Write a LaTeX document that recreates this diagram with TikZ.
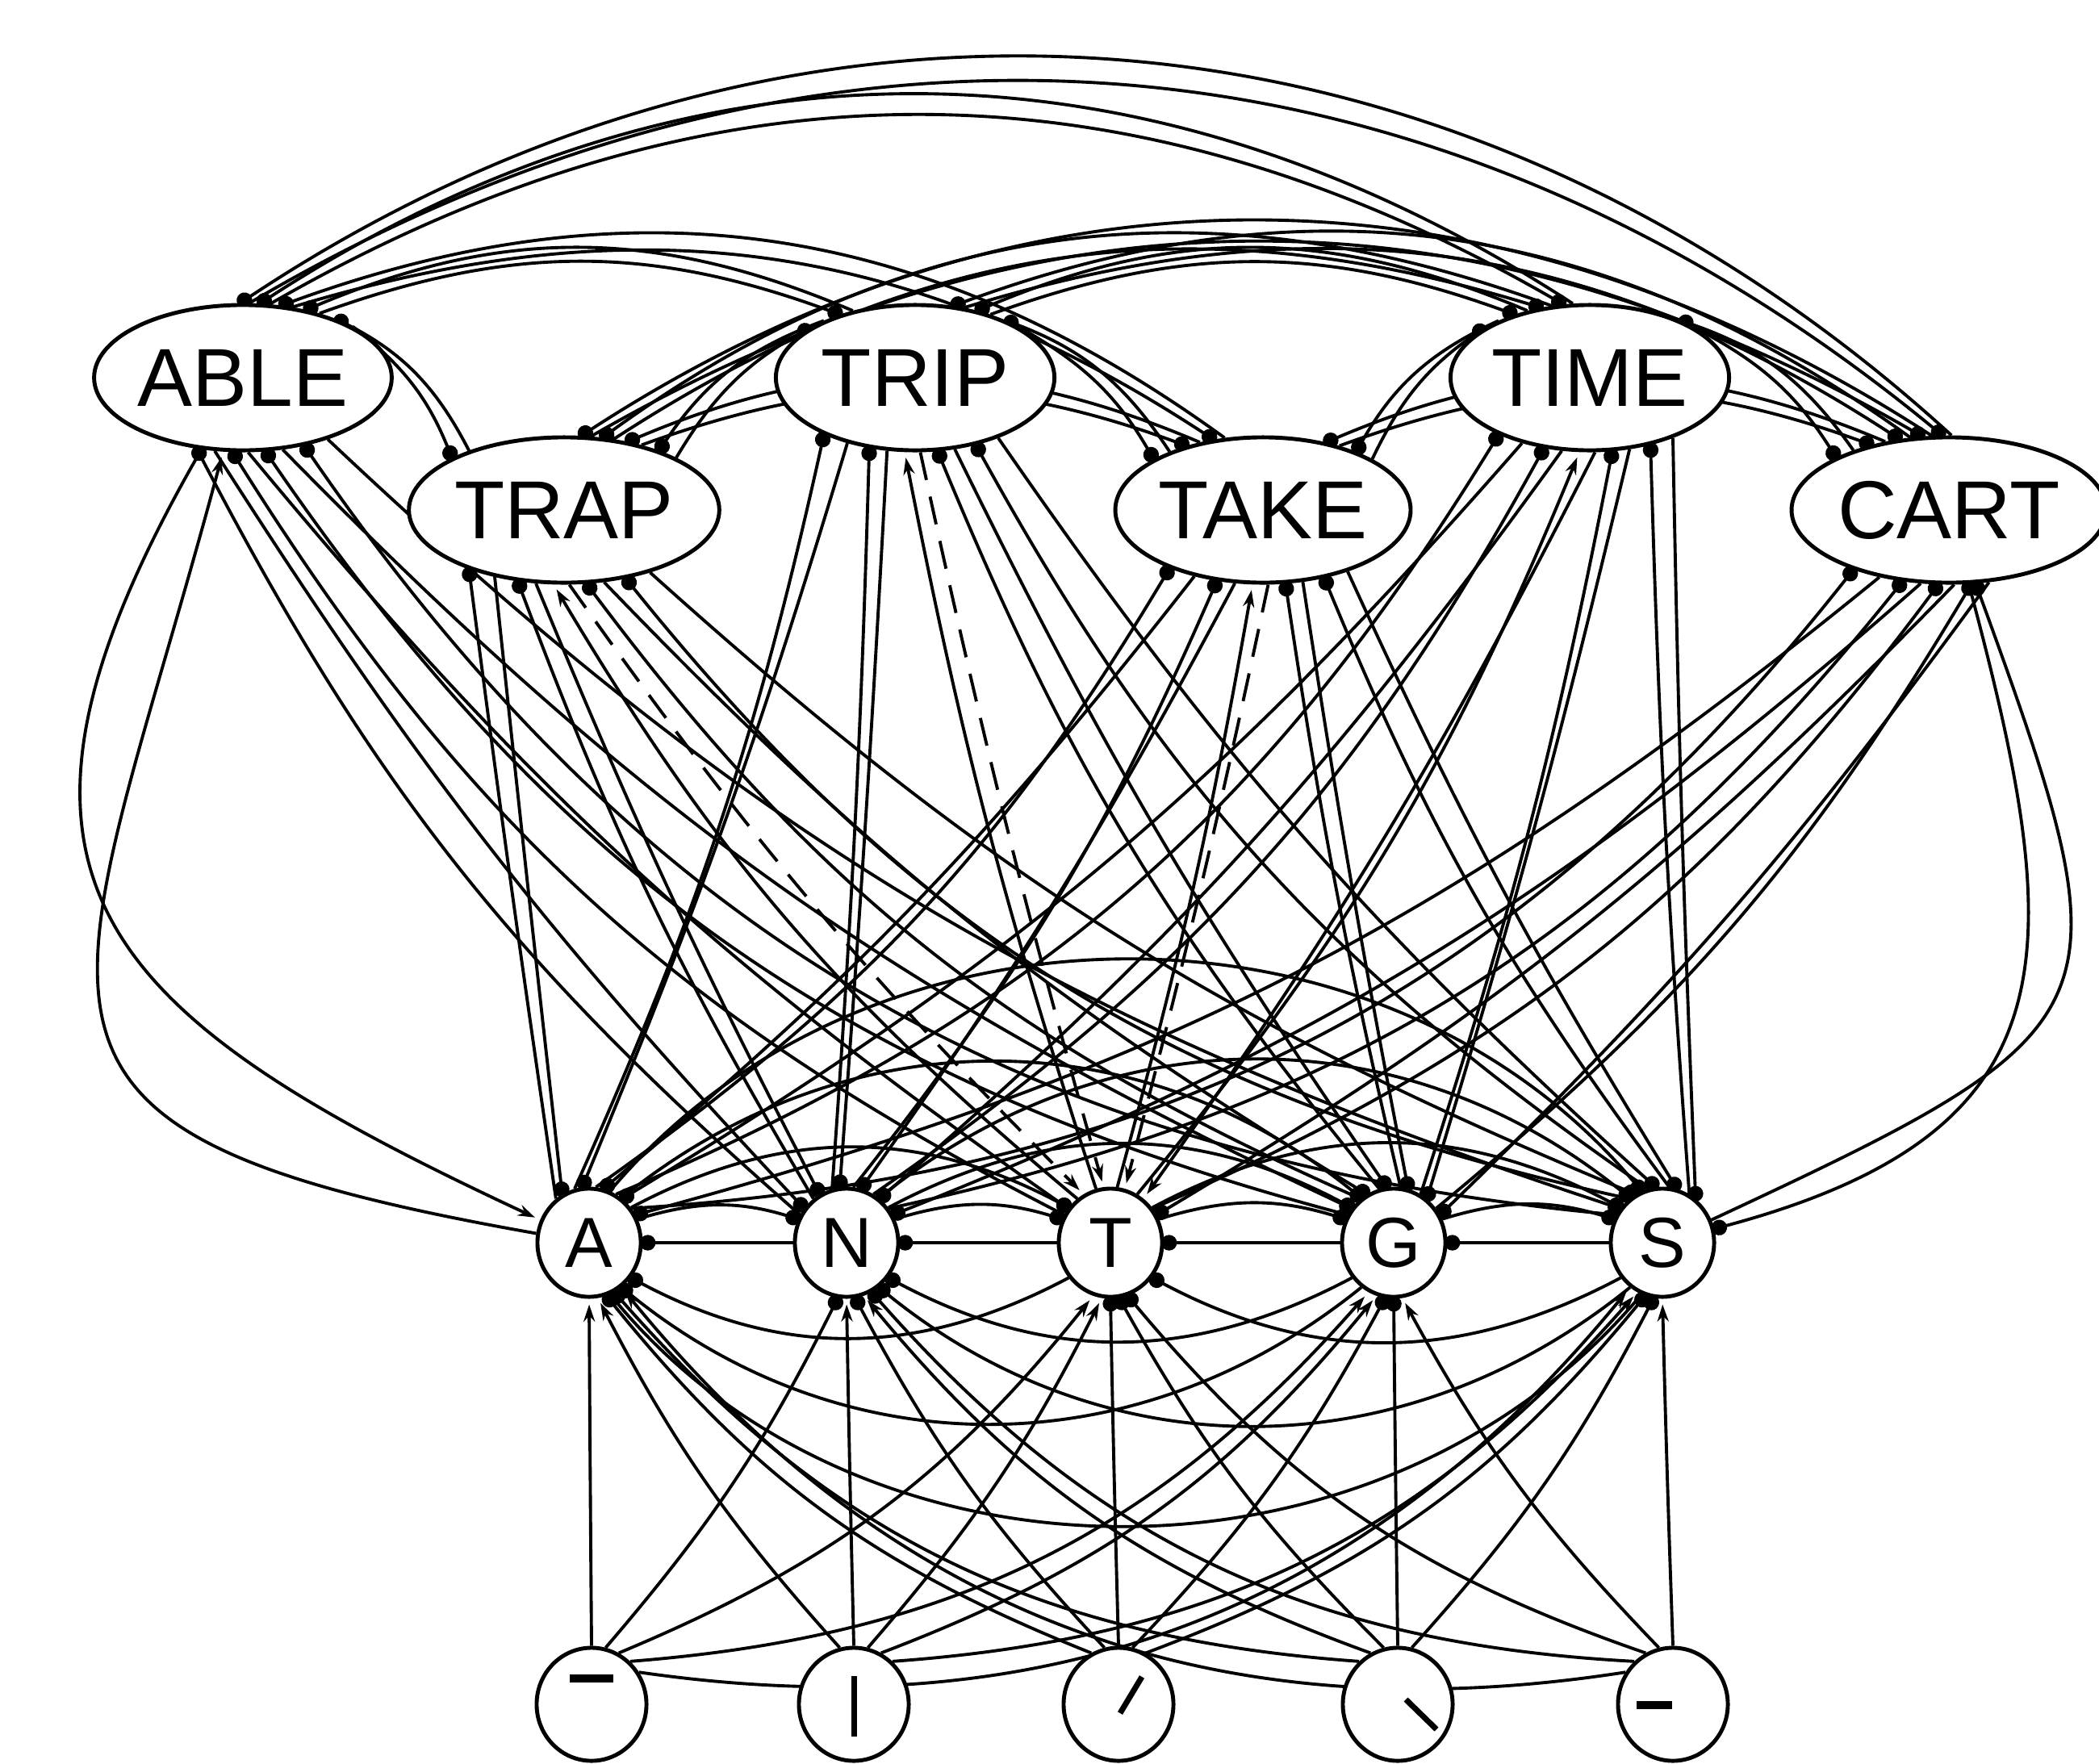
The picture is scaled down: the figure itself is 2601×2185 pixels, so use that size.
\documentclass[tikz,border=0pt]{standalone}
\usepackage{fontspec}
\setmainfont{Liberation Sans}
\usetikzlibrary{shapes.geometric,arrows.meta,backgrounds}

\tikzset{
  neuron/.style={draw, ellipse, line width=1.4pt, fill=white, inner sep=0pt},
  word/.style={neuron, minimum width=3.45cm, minimum height=1.8cm, font=\fontsize{29}{34}\selectfont},
  letter/.style={neuron, minimum width=1.28cm, minimum height=1.34cm, font=\fontsize{25}{30}\selectfont},
  feature/.style={neuron, minimum width=1.36cm, minimum height=1.4cm},
  link/.style={line width=1.1pt},
  exc/.style={link, -{Stealth[length=6pt,width=4pt]}, shorten >=2pt},
  inh/.style={link, -{Circle[length=5.5pt,width=5.5pt]}, shorten >=-1pt},
  topdown/.style={exc, dash pattern=on 10pt off 6pt}
}

\begin{document}
\begin{tikzpicture}[x=0.01cm, y=-0.01cm]
\useasboundingbox (0,0) rectangle (2601,2185);

%--- Word level ---
\node[word] (able) at (301,468) {ABLE};
\node[word] (trip) at (1134,468) {TRIP};
\node[word] (time) at (1970,468) {TIME};
\node[word] (trap) at (699,632) {TRAP};
\node[word] (take) at (1565,632) {TAKE};
\node[word] (cart) at (2415,632) {CART};

%--- Letter level ---
\foreach \n/\x/\t in {la/730/A, ln/1049/N, lt/1376/T, lg/1727/G, ls/2060/S}
  \node[letter] (\n) at (\x,1540) {\t};

%--- Feature level ---
\foreach \n/\x in {f1/733, f2/1058, f3/1386, f4/1732, f5/2073}
  \node[feature] (\n) at (\x,2112) {};

% Strokes inside the feature units
\draw[line width=2.8pt] (706,2080) -- (760,2080);
\draw[line width=2pt] (1058,2077) -- (1058,2152);
\draw[line width=2pt] (1388,2123) -- (1415,2078);
\draw[line width=2pt] (1742,2106) -- (1780,2143);
\draw[line width=2.8pt] (2028,2113) -- (2072,2113);

\begin{scope}[on background layer]

  % Word to word inhibition (arcs over the top)
  \foreach \u/\i in {able/1, trap/2, trip/3, take/4, time/5, cart/6}
    \foreach \v/\j in {able/1, trap/2, trip/3, take/4, time/5, cart/6} {
      \ifnum\i<\j
        \pgfmathtruncatemacro\d{\j-\i}
        \pgfmathtruncatemacro\au{10+15*\d}
        \pgfmathtruncatemacro\av{170-15*\d}
        \pgfmathsetmacro\b{10+5*\d}
        \draw[inh] (\u.\au) to[bend left=\b] (\v.\av);
        \pgfmathtruncatemacro\au{\au+7}
        \pgfmathtruncatemacro\av{\av-7}
        \pgfmathsetmacro\b{13+5*\d}
        \draw[inh] (\v.\av) to[bend right=\b] (\u.\au);
      \fi
    }

  % Letter to letter inhibition
  \foreach \u/\i in {la/1, ln/2, lt/3, lg/4, ls/5}
    \foreach \v/\j in {la/1, ln/2, lt/3, lg/4, ls/5} {
      \pgfmathtruncatemacro\d{abs(\j-\i)}
      \pgfmathsetmacro\b{6+11*\d}
      \ifnum\i<\j
        \pgfmathtruncatemacro\au{12+14*\d}
        \pgfmathtruncatemacro\av{168-14*\d}
        \draw[inh] (\u.\au) to[bend left=\b] (\v.\av);
      \fi
      \ifnum\i>\j
        \ifnum\d=1
          \draw[inh] (\u.west) -- (\v.east);
        \else
          \pgfmathtruncatemacro\au{192+14*\d}
          \pgfmathtruncatemacro\av{348-14*\d}
          \draw[inh] (\u.\au) to[bend left=\b] (\v.\av);
        \fi
      \fi
    }

  % Letter to word (0 inhibitory, 1 excitatory, 3 drawn apart)
  \foreach \w/\m/\wx/\ca/\cn/\ct/\cg/\cs in {able/1/301/3/0/0/0/0, trap/2/699/0/0/1/0/0,
      trip/3/1134/0/0/1/0/0, take/4/1565/0/0/1/0/0, time/5/1970/0/0/1/0/0, cart/6/2415/0/0/0/0/3}
    \foreach \l/\k/\lx/\c in {la/1/730/\ca, ln/2/1049/\cn, lt/3/1376/\ct, lg/4/1727/\cg, ls/5/2060/\cs} {
      \pgfmathsetmacro\b{(\lx-\wx)/70}
      \pgfmathtruncatemacro\la{149-22*(\m-1)}
      \pgfmathtruncatemacro\wa{212+25*(\k-1)}
      \ifcase\c
        \draw[inh] (\l.\la) to[bend left=\b] (\w.\wa);
      \or
        \draw[exc] (\l.\la) to[bend left=\b] (\w.\wa);
      \fi
    }

  % Word to letter (0 inhibitory, 1 excitatory, 2 dashed, 3 drawn apart)
  \foreach \w/\m/\wx/\ca/\cn/\ct/\cg/\cs in {able/1/301/3/0/0/0/0, trap/2/699/0/0/2/0/0,
      trip/3/1134/0/0/2/0/0, take/4/1565/0/0/2/0/0, time/5/1970/0/0/1/0/0, cart/6/2415/0/0/0/0/3}
    \foreach \l/\k/\lx/\c in {la/1/730/\ca, ln/2/1049/\cn, lt/3/1376/\ct, lg/4/1727/\cg, ls/5/2060/\cs} {
      \pgfmathsetmacro\b{(\wx-\lx)/140}
      \pgfmathtruncatemacro\la{141-22*(\m-1)}
      \pgfmathtruncatemacro\wa{224+25*(\k-1)}
      \ifcase\c
        \draw[inh] (\w.\wa) to[bend left=\b] (\l.\la);
      \or
        \draw[exc] (\w.\wa) to[bend left=\b] (\l.\la);
      \or
        \draw[topdown] (\w.\wa) to[bend left=\b] (\l.\la);
      \fi
    }

  % Wide loops on the outside
  \draw[exc] (la) to[out=170, in=255, looseness=1.8] (able);
  \draw[exc] (able) to[out=240, in=155, looseness=1.5] (la);
  \draw[inh] (ls) to[out=25, in=290, looseness=1.7] (cart);
  \draw[inh] (cart) to[out=-75, in=15, looseness=1.4] (ls);

  % Feature to letter
  \foreach \f/\p/\fx/\ca/\cn/\ct/\cg/\cs in {f1/1/733/1/0/1/1/1, f2/2/1058/1/1/1/1/1,
      f3/3/1386/0/0/0/0/0, f4/4/1732/0/1/0/0/0, f5/5/2073/1/0/0/1/1}
    \foreach \l/\k/\lx/\c in {la/1/730/\ca, ln/2/1049/\cn, lt/3/1376/\ct, lg/4/1727/\cg, ls/5/2060/\cs} {
      \pgfmathsetmacro\b{(\fx-\lx)/45}
      \pgfmathtruncatemacro\fa{90-14*(\k-\p)}
      \pgfmathtruncatemacro\ea{270-9*(\k-\p)}
      \ifcase\c
        \draw[inh] (\f.\fa) to[bend left=\b] (\l.\ea);
      \or
        \draw[exc] (\f.\fa) to[bend left=\b] (\l.\ea);
      \fi
    }

\end{scope}

\end{tikzpicture}
\end{document}
